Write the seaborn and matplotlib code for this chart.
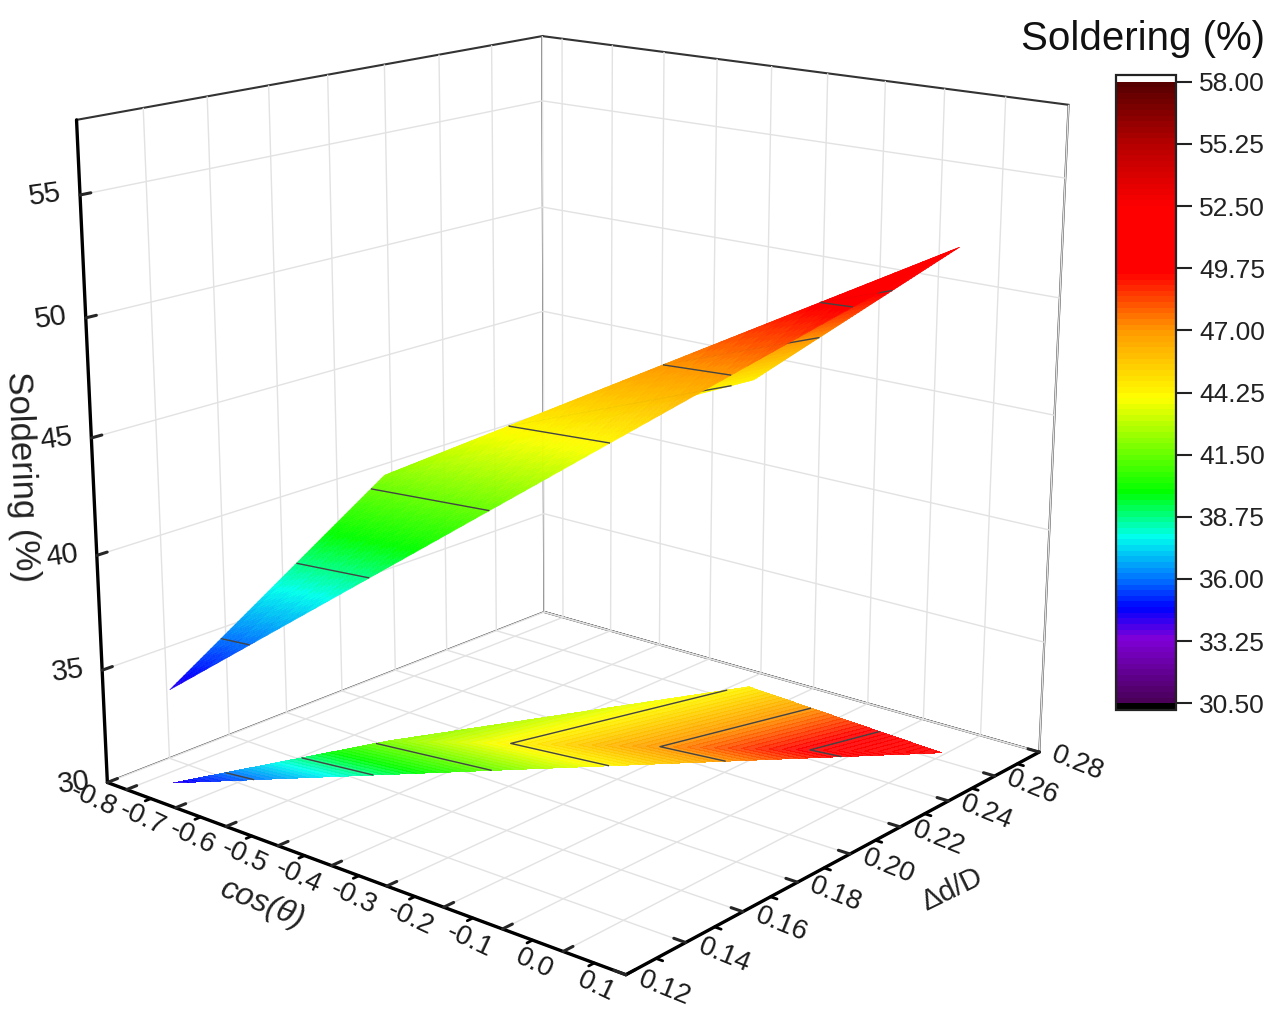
import matplotlib
matplotlib.use("Agg")
import matplotlib.pyplot as plt
import matplotlib.tri as mtri
import numpy as np
import seaborn as sns
from matplotlib.cm import ScalarMappable
from matplotlib.colors import BoundaryNorm, LinearSegmentedColormap

# surface vertices
cos_theta = [-0.768, -0.6455, -0.379, -0.006]
delta_d = [0.130, 0.1828, 0.270, 0.2642]
soldering = [34.15, 42.0, 44.4, 52.15]
front_face = [0, 1, 3]
back_face = [1, 2, 3]

contour_levels = [36.0, 38.75, 41.5, 44.25, 47.0, 49.75]
cbar_ticks = [30.5, 33.25, 36.0, 38.75, 41.5, 44.25, 47.0, 49.75, 52.5, 55.25, 58.0]

x_ticks = [-0.8, -0.7, -0.6, -0.5, -0.4, -0.3, -0.2, -0.1, 0.0, 0.1]
x_minor = [-0.75, -0.65, -0.55, -0.45, -0.35, -0.25, -0.15, -0.05, 0.05]
y_ticks = [0.12, 0.14, 0.16, 0.18, 0.20, 0.22, 0.24, 0.26, 0.28]
y_minor = [0.13, 0.15, 0.17, 0.19, 0.21, 0.23, 0.25, 0.27]
z_ticks = [30, 35, 40, 45, 50, 55]

color_z = [30.5, 33.25, 34.6, 36.0, 37.8, 39.8, 44.0, 47.0, 49.6, 52.5, 55.25, 58.0]
color_hex = ["#4a0058", "#7f00d8", "#0000ff", "#0078ff", "#00ffee", "#00ff00",
             "#ffff00", "#ff9a00", "#ff0000", "#ff0000", "#b80000", "#580000"]

sns.set_theme(style="white")
plt.rcParams["font.family"] = ["Liberation Sans", "DejaVu Sans"]
plt.rcParams["text.color"] = "#222222"

stops = [(v - 30.5) / 27.5 for v in color_z]
cmap = LinearSegmentedColormap.from_list("soldering", list(zip(stops, color_hex)), N=110)
cmap = cmap.with_extremes(over="white", under="black")
levels = np.arange(30.5, 58.01, 0.25)
norm = BoundaryNorm(levels, 110)

W, H = 1267, 1009
size = 1267
cx, cy = 562, 467
fig = plt.figure(figsize=(W / 100, H / 100), dpi=100)
ax = fig.add_axes([(cx - size / 2) / W, 1 - (cy + size / 2) / H, size / W, size / H],
                  projection="3d", computed_zorder=False)
ax.patch.set_alpha(0)
ax.view_init(elev=16.4, azim=-49.9)
ax.set_proj_type("persp", focal_length=0.45)
ax.set_box_aspect((1, 1, 1), zoom=0.905)


def draw_face(idx, zorder):
    # one facet of the surface with its contour lines on top
    t = mtri.Triangulation([cos_theta[i] for i in idx], [delta_d[i] for i in idx], [[0, 1, 2]])
    zv = np.array([soldering[i] for i in idx])
    fine, z_fine = mtri.UniformTriRefiner(t).refine_field(
        zv, triinterpolator=mtri.LinearTriInterpolator(t, zv), subdiv=6)
    surf = ax.plot_trisurf(fine, z_fine, cmap=cmap, norm=norm, shade=False, linewidth=0.3, zorder=zorder)
    surf.set_edgecolor("face")
    ax.tricontour(t, zv, levels=contour_levels, colors="#444444", linewidths=1, zorder=zorder + 0.5)


# floor projection
tri = mtri.Triangulation(cos_theta, delta_d, [front_face, back_face])
z = np.array(soldering)
ax.tricontourf(tri, z, levels=levels, cmap=cmap, norm=norm, zdir="z", offset=30, alpha=0.9, zorder=2)
ax.tricontour(tri, z, levels=contour_levels, colors="#444444", linewidths=1, zdir="z", offset=30, zorder=3)

# the back facet sits behind the front one from this view
draw_face(back_face, 4)
draw_face(front_face, 5)

# short ticks between the labelled ones
for v in x_minor:
    ax.plot([v, v], [0.12, 0.12 - 0.0018], [30, 30], color="black", lw=2, zorder=7)
for v in y_minor:
    ax.plot([0.1, 0.1 + 0.0104], [v, v], [30, 30], color="black", lw=2, zorder=7)

ax.set_xticks(x_ticks)
ax.set_xticklabels(["-0.8", "-0.7", "-0.6", "-0.5", "-0.4", "-0.3", "-0.2", "-0.1", "0.0", "0.1"])
ax.set_yticks(y_ticks)
ax.set_yticklabels(["0.12", "0.14", "0.16", "0.18", "0.20", "0.22", "0.24", "0.26", "0.28"])
ax.set_zticks(z_ticks)
ax.set_xlim(-0.84, 0.1, view_margin=0)
ax.set_ylim(0.12, 0.28, view_margin=0)
ax.set_zlim(30, 58, view_margin=0)

for axis in [ax.xaxis, ax.yaxis, ax.zaxis]:
    axis.set_pane_color((1, 1, 1, 1))
    axis.pane.set_edgecolor("#333333")
    axis.pane.set_linewidth(1.5)
    axis.line.set_color("black")
    axis.line.set_linewidth(2.4)
    axis._axinfo["grid"].update(color="#e2e2e2", linewidth=1)
    axis._axinfo["tick"].update(inward_factor=0, outward_factor=0.25, linewidth={True: 2.2, False: 1})
ax.grid(True)
ax.zaxis.set_ticks_position("lower")

ax.tick_params(axis="x", labelrotation=-25, labelsize=20, pad=-2, labelcolor="#1a1a1a")
ax.tick_params(axis="y", labelrotation=-22, labelsize=20, pad=-1, labelcolor="#1a1a1a")
ax.tick_params(axis="z", labelrotation=8, labelsize=21, pad=0, labelcolor="#1a1a1a")
for t in ax.xaxis.get_ticklabels():
    t.set(ha="right", va="center")
for t in ax.yaxis.get_ticklabels():
    t.set(ha="left", va="center")
for t in ax.zaxis.get_ticklabels():
    t.set(ha="right", va="center")

# axis titles sit where they do in the picture, not at the axis middle
fig.text(263 / W, 1 - 905 / H, "cos(θ)", fontsize=23, style="italic", rotation=-22,
         ha="center", va="center", rotation_mode="anchor")
fig.text(952 / W, 1 - 890 / H, "Δd/D", fontsize=21, rotation=26,
         ha="center", va="center", rotation_mode="anchor")
fig.text(22 / W, 1 - 477 / H, "Soldering (%)", fontsize=25, rotation=-87.7,
         ha="center", va="center", rotation_mode="anchor")

# colour bar
cax = fig.add_axes([1116 / W, 1 - 710 / H, 60 / W, 635 / H])
cb = fig.colorbar(ScalarMappable(norm=norm, cmap=cmap), cax=cax, extend="both", extendrect=True,
                  extendfrac=0.011, ticks=cbar_ticks, format="%.2f", spacing="proportional")
cb.ax.minorticks_off()
cb.ax.tick_params(length=11.5, width=1.5, labelsize=19, pad=5, color="#222222", labelcolor="#222222")
cb.outline.set_edgecolor("#222222")
cb.outline.set_linewidth(1.6)
fig.text(1021 / W, 1 - 50 / H, "Soldering (%)", fontsize=29, color="#111111")

fig.savefig("out.png", dpi=100)
